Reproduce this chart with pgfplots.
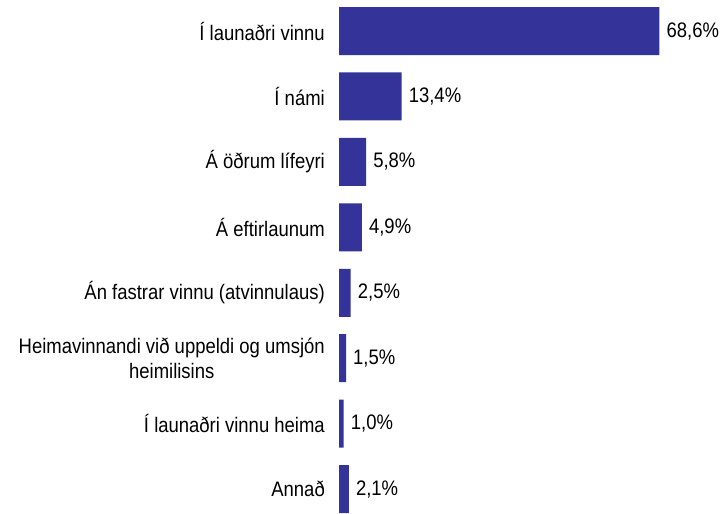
\documentclass[border=0pt]{standalone}
\usepackage{pgfplots}
\pgfplotsset{compat=1.18}
\usepackage{fontspec}
\setmainfont[FakeStretch=0.88]{Liberation Sans}
\definecolor{barblue}{RGB}{51,51,153}
\begin{document}
\fontsize{21bp}{24bp}\selectfont
\begin{tikzpicture}
\begin{axis}[
  xbar,
  scale only axis,
  width=383bp, height=510bp,
  xmin=0, xmax=82,
  ymin=-0.474, ymax=7.32,
  y dir=reverse,
  axis x line=none,
  axis y line*=left,
  y axis line style={draw=none},
  major tick length=0pt,
  ytick={0,...,7},
  yticklabels={Í launaðri vinnu,Í námi,Á öðrum lífeyri,Á eftirlaunum,Án fastrar vinnu (atvinnulaus),{Heimavinnandi við uppeldi og umsjón\\heimilisins},Í launaðri vinnu heima,Annað},
  yticklabel style={align=center, inner xsep=0pt, xshift=-14bp, font=\fontsize{21bp}{25bp}\selectfont},
  bar width=48bp,
  clip=false,
  nodes near coords={\pgfmathprintnumber[fixed,fixed zerofill,precision=1,use comma,assume math mode=true]{\pgfplotspointmeta}\%},
  nodes near coords style={anchor=west, inner xsep=0pt, xshift=7bp, font=\fontsize{21bp}{24bp}\selectfont},
  point meta=x,
]
\addplot[fill=barblue, draw=none] coordinates {
(68.6,0) (13.4,1) (5.8,2) (4.9,3) (2.5,4) (1.5,5) (1.0,6) (2.1,7)
};
\end{axis}
\path (current axis.south west) ++(-339bp,0) rectangle (current axis.north east);
\end{tikzpicture}
\end{document}
